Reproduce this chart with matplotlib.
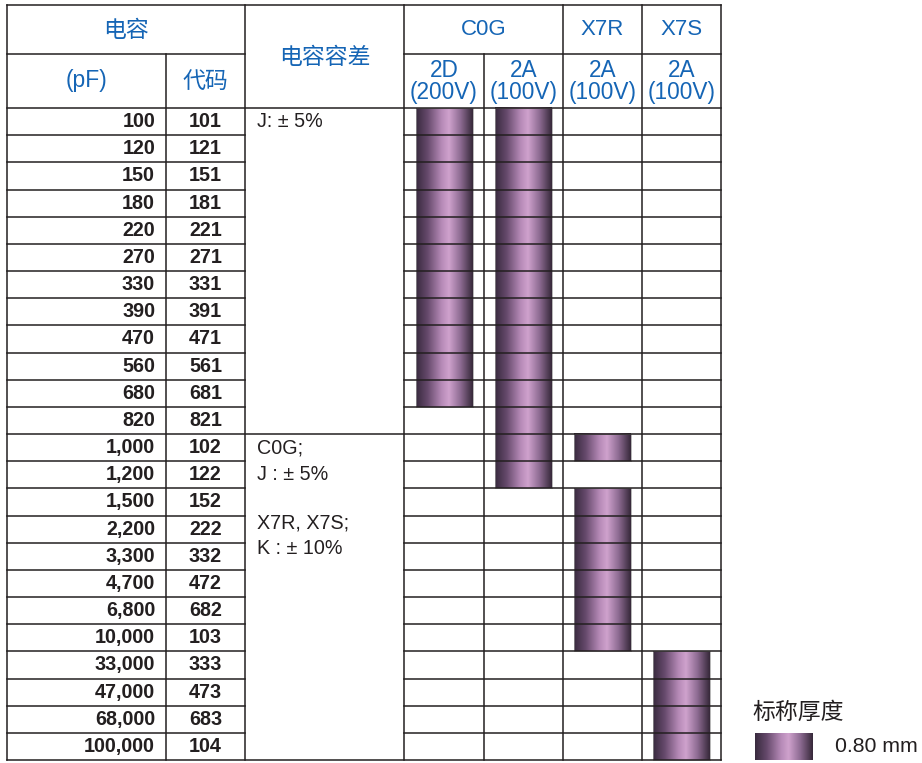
import numpy as np
import matplotlib.pyplot as plt
from matplotlib.colors import LinearSegmentedColormap
from matplotlib.patches import Rectangle

# --- table data ---
caps = ['100', '120', '150', '180', '220', '270', '330', '390', '470', '560', '680', '820',
        '1,000', '1,200', '1,500', '2,200', '3,300', '4,700', '6,800', '10,000',
        '33,000', '47,000', '68,000', '100,000']
codes = ['101', '121', '151', '181', '221', '271', '331', '391', '471', '561', '681', '821',
         '102', '122', '152', '222', '332', '472', '682', '103', '333', '473', '683', '104']

dielectrics = ['C0G', 'X7R', 'X7S']
voltages = ['2D\n(200V)', '2A\n(100V)', '2A\n(100V)', '2A\n(100V)']

# codes available per column (0.80 mm thickness)
c0g_2d = ['101', '121', '151', '181', '221', '271', '331', '391', '471', '561', '681']
c0g_2a = ['101', '121', '151', '181', '221', '271', '331', '391', '471', '561', '681', '821',
          '102', '122']
x7r_2a = ['102', '152', '222', '332', '472', '682', '103']
x7s_2a = ['333', '473', '683', '104']
columns = [c0g_2d, c0g_2a, x7r_2a, x7s_2a]

tol_1 = ['J: ± 5%']
tol_2 = ['C0G;', 'J : ± 5%', 'X7R, X7S;', 'K : ± 10%']
tol_2_rows = [0.0, 1.0, 2.78, 3.7]

# --- layout (pixel space) ---
W, H = 922, 763
BLUE = '#1565b5'
LINE = '#231f20'
FONT = ['Liberation Sans', 'Noto Sans CJK SC']
xs = [7, 166, 245, 404, 484, 563, 642, 721]
y_top, y_h1, y_h2, y_bot = 5, 54, 108, 760
rh = (y_bot - y_h2) / len(caps)
BAR_W = 57

cmap = LinearSegmentedColormap.from_list('cyl', [
    (0.0, '#382a3e'), (0.2, '#65496b'), (0.45, '#b68ab7'),
    (0.58, '#cfa2cd'), (0.78, '#8e6c93'), (1.0, '#362839')])
grad = np.linspace(0, 1, 256).reshape(1, -1)

fig = plt.figure(figsize=(W / 100, H / 100), dpi=100)
ax = fig.add_axes([0, 0, 1, 1])
ax.set_xlim(0, W)
ax.set_ylim(H, 0)
ax.axis('off')


def cylinder(x0, y0, y1):
    ax.imshow(grad, cmap=cmap, aspect='auto', extent=(x0, x0 + BAR_W, y1, y0),
              interpolation='bilinear', zorder=1)
    ax.add_patch(Rectangle((x0, y0), BAR_W, y1 - y0, fill=False,
                           edgecolor='#9a9a9a', lw=0.5, zorder=1.5))


# bars: contiguous runs of available codes
for ci, avail in enumerate(columns):
    rows = sorted(codes.index(c) for c in avail)
    runs, start = [], rows[0]
    for a, b in zip(rows, rows[1:] + [None]):
        if b is None or b != a + 1:
            runs.append((start, a))
            start = b
    cx = (xs[ci + 3] + xs[ci + 4]) / 2
    for r0, r1 in runs:
        cylinder(cx - BAR_W / 2, y_h2 + r0 * rh, y_h2 + (r1 + 1) * rh)

# grid lines
kw = dict(color=LINE, lw=1.1, zorder=3, solid_capstyle='projecting')
for x in [xs[0], xs[2], xs[3], xs[5], xs[6], xs[7]]:
    ax.plot([x, x], [y_top, y_bot], **kw)
for x in [xs[1], xs[4]]:
    ax.plot([x, x], [y_h1, y_bot], **kw)
ax.plot([xs[0], xs[7]], [y_top, y_top], **kw)
ax.plot([xs[0], xs[7]], [y_bot, y_bot], **kw)
ax.plot([xs[0], xs[7]], [y_h2, y_h2], **kw)
ax.plot([xs[0], xs[2]], [y_h1, y_h1], **kw)
ax.plot([xs[3], xs[7]], [y_h1, y_h1], **kw)
for i in range(1, len(caps)):
    y = y_h2 + i * rh
    if i == 12:
        ax.plot([xs[0], xs[7]], [y, y], **kw)
    else:
        ax.plot([xs[0], xs[2]], [y, y], **kw)
        ax.plot([xs[3], xs[7]], [y, y], **kw)

# headers
hkw = dict(color=BLUE, ha='center', va='center', family=FONT)
ax.text((xs[0] + xs[2]) / 2, (y_top + y_h1) / 2 + 1, '电容', fontsize=16.5, **hkw)
ax.text((xs[0] + xs[1]) / 2, (y_h1 + y_h2) / 2, '(pF)', fontsize=16.5, **hkw)
ax.text((xs[1] + xs[2]) / 2, (y_h1 + y_h2) / 2, '代码', fontsize=16.5, **hkw)
ax.text((xs[2] + xs[3]) / 2, (y_top + y_h2) / 2 + 1.5, '电容容差', fontsize=16.5, **hkw)
ax.text((xs[3] + xs[5]) / 2, (y_top + y_h1) / 2, dielectrics[0], fontsize=16, **hkw)
ax.text((xs[5] + xs[6]) / 2, (y_top + y_h1) / 2, dielectrics[1], fontsize=16, **hkw)
ax.text((xs[6] + xs[7]) / 2, (y_top + y_h1) / 2, dielectrics[2], fontsize=16, **hkw)
for ci, v in enumerate(voltages):
    ax.text((xs[ci + 3] + xs[ci + 4]) / 2, (y_h1 + y_h2) / 2 + 0.5, v, fontsize=16.3,
            linespacing=0.92, **hkw)

# body rows
for i, (c, k) in enumerate(zip(caps, codes)):
    y = y_h2 + (i + 0.5) * rh
    ax.text(xs[1] - 11, y, c, ha='right', va='center', fontsize=14.2, fontweight='bold',
            color='#231f20', family=FONT)
    ax.text((xs[1] + xs[2]) / 2, y, k, ha='center', va='center', fontsize=14.2,
            fontweight='bold', color='#231f20', family=FONT)

ax.text(xs[2] + 12, y_h2 + 0.5 * rh, tol_1[0], ha='left', va='center', fontsize=14.2,
        color='#231f20', family=FONT)
for t, r in zip(tol_2, tol_2_rows):
    ax.text(xs[2] + 12, y_h2 + (12.5 + r) * rh, t, ha='left', va='center', fontsize=14.2,
            color='#231f20', family=FONT)

# legend
ax.text(752, 712, '标称厚度', ha='left', va='center', fontsize=16.5, color='#231f20',
        family=FONT)
ax.imshow(grad, cmap=cmap, aspect='auto', extent=(755, 755 + BAR_W, 760, 733),
          interpolation='bilinear', zorder=1)
ax.text(835, 747, '0.80 mm', ha='left', va='center', fontsize=15.3, color='#231f20',
        family=FONT)

ax.set_xlim(0, W)
ax.set_ylim(H, 0)
fig.savefig('out.png', dpi=100, facecolor='white')
